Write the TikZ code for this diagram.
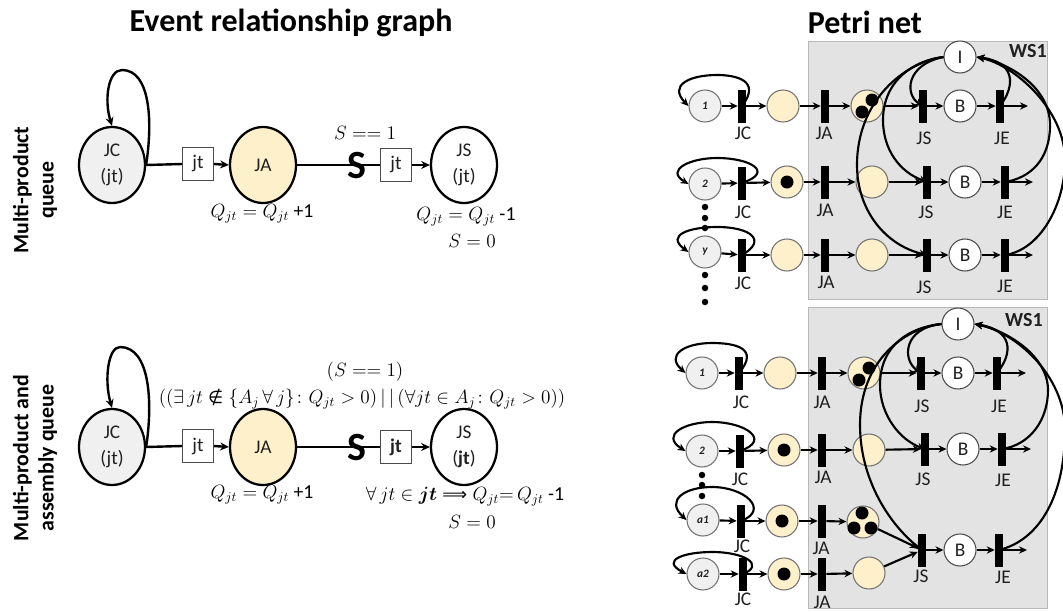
\documentclass[tikz,border=0pt]{standalone}
\usepackage{amsmath,amssymb}
\usepackage{fontspec}
\setmainfont{Carlito}
\newfontfamily\symfont{DejaVu Sans}
\usetikzlibrary{arrows.meta,shapes.geometric}
\definecolor{yel}{HTML}{FFF0CC}
\definecolor{gry}{HTML}{F0F0F0}
\definecolor{ws}{HTML}{E3E3E3}
\definecolor{edgeg}{HTML}{B8B8B8}
\definecolor{txt}{HTML}{202020}
\newcommand{\unitpx}{*0.75pt}
\newcommand{\symnotin}{\mathrel{\mbox{\symfont\fontsize{13}{15}\selectfont ∉}}}
\newcommand{\symimp}{\mathrel{\mbox{\symfont\fontsize{13}{15}\selectfont ⟹}}}
\tikzset{
 ev/.style={ellipse,draw=black,line width=1.7pt,minimum width=66\unitpx,minimum height=76\unitpx,inner sep=0pt,align=center,font=\fontsize{14.5}{19}\selectfont,text=txt},
 box/.style={draw=black!70,line width=.6pt,fill=white,minimum width=31\unitpx,minimum height=33\unitpx,inner sep=0pt,font=\fontsize{14.5}{16}\selectfont,text=txt},
 lab/.style={font=\fontsize{14.8}{18}\selectfont,text=black,inner sep=0pt,align=center},
 head/.style={font=\bfseries\fontsize{24}{28}\selectfont,text=black,inner sep=0pt},
 side/.style={font=\bfseries\fontsize{16.4}{19}\selectfont,rotate=90,inner sep=0pt,align=center,text=black},
 evline/.style={line width=1.8pt,-{Stealth[length=6.5pt,width=6pt]}},
 evplain/.style={line width=1.8pt},
 pl/.style={circle,draw=black!55,line width=.8pt,minimum size=32\unitpx,inner sep=0pt,font=\fontsize{14.5}{16}\selectfont,text=txt},
 plg/.style={pl,fill=gry,font=\bfseries\itshape\fontsize{8.5}{9}\selectfont},
 ply/.style={pl,fill=yel},
 plw/.style={pl,fill=white,draw=black!70},
 tr/.style={fill=black,minimum width=8\unitpx,minimum height=33\unitpx,inner sep=0pt},
 tok/.style={circle,fill=black,minimum size=13\unitpx,inner sep=0pt},
 dotp/.style={circle,fill=black,minimum size=6.5\unitpx,inner sep=0pt},
 pa/.style={line width=1.6pt,-{Stealth[length=6pt,width=5.5pt]}},
 wsbox/.style={fill=ws,draw=edgeg,line width=.7pt},
 tl/.style={font=\fontsize{14.5}{16}\selectfont,text=txt,inner sep=0pt},
 wsl/.style={font=\bfseries\fontsize{15}{16}\selectfont,inner sep=0pt,text=txt}
}
\begin{document}
\begin{tikzpicture}[x=0.75pt,y=-0.75pt]
\useasboundingbox (0,0) rectangle (1063,611);
% Titles
\node[head] (t1) at (291,23) {Event relationship graph};
\node[head] (t2) at (865,22) {Petri net};
\node[side] (s1) at (35,190) {Multi-product\\queue};
\node[side] (s2) at (35,458) {Multi-product and\\assembly queue};
% ERG upper
\node[ev,fill=gry] (JC1) at (112,165) {JC\\(jt)};
\node[box] (b1) at (198,164) {jt};
\node[ev,fill=yel] (JA1) at (263,165) {JA};
\node[box] (b2) at (396,165) {jt};
\node[ev,fill=white] (JS1) at (464,165) {JS\\(jt)};
\draw[evplain] (JC1.east) -- (b1.west);
\draw[evline] (b1.east) -- (JA1.west);
\draw[evplain] (JA1.east) -- (b2.west);
\draw[evline] (b2.east) -- (JS1.west);
\node[font=\bfseries\fontsize{30}{30}\selectfont,inner sep=0pt] (S1) at (357,166) {S};
\draw[evline] (JC1.east) .. controls (153,120) and (150,70) .. (122,70) .. controls (108,70) and (104,100) .. (JC1.north);
\node[lab] (a1) at (365,133) {$S==1$};
\node[lab] (a2) at (262,214) {$Q_{jt}=Q_{jt}$ +1};
\node[lab] (a3) at (466,217) {$Q_{jt}=Q_{jt}$ -1};
\node[lab] (a4) at (472,241) {$S=0$};
% ERG lower
\node[ev,fill=gry] (JC2) at (112,447) {JC\\(jt)};
\node[box] (b3) at (198,446) {jt};
\node[ev,fill=yel] (JA2) at (263,447) {JA};
\node[box] (b4) at (396,447) {\textbf{jt}};
\node[ev,fill=white] (JS2) at (464,447) {JS\\(\textbf{jt})};
\draw[evplain] (JC2.east) -- (b3.west);
\draw[evline] (b3.east) -- (JA2.west);
\draw[evplain] (JA2.east) -- (b4.west);
\draw[evline] (b4.east) -- (JS2.west);
\node[font=\bfseries\fontsize{30}{30}\selectfont,inner sep=0pt] (S2) at (357,448) {S};
\draw[evline] (JC2.east) .. controls (153,402) and (150,347) .. (120,347) .. controls (108,347) and (104,380) .. (JC2.north);
\node[lab] (c1) at (365,372) {$(S==1)$};
\node[lab] (c2) at (362,399) {$((\exists\,jt\symnotin\{A_j\,\forall\,j\}\colon Q_{jt}>0)\,|\,|\,(\forall jt\in A_j\colon Q_{jt}>0))$};
\node[lab] (c3) at (262,495) {$Q_{jt}=Q_{jt}$ +1};
\node[lab] (c4) at (465,497) {$\forall\,jt\in\boldsymbol{jt}\symimp Q_{jt}{=}\,Q_{jt}$ -1};
\node[lab] (c5) at (472,522) {$S=0$};
% Petri boxes
\draw[wsbox] (808,41) rectangle (1047,299);
\draw[wsbox] (808,307) rectangle (1047,608);
\node[wsl] (w1) at (1028,51) {WS1};
\node[wsl] (w2) at (1024,320) {WS1};
% Petri upper, row 1
\node[plw] (I) at (960,57) {I};
\node[plg] (p1) at (705,106) {1};
\node[tr] (tc1) at (742,106) {};
\node[ply] (y1) at (783,106) {};
\node[tr] (ta1) at (825,106) {};
\node[ply] (q1) at (867,106) {};
\node[tr] (ts1) at (923,106) {};
\node[plw] (B1) at (960,106) {B};
\node[tr] (te1) at (1000,106) {};
\coordinate (e1) at (1028,106);
% row 2
\node[plg] (p2) at (705,184) {2};
\node[tr] (tc2) at (742,183) {};
\node[ply] (y2) at (787,182) {};
\node[tok] (k3) at (787,182) {};
\node[tr] (ta2) at (825,182) {};
\node[ply] (q2) at (872,182) {};
\node[tr] (ts2) at (927,182) {};
\node[plw] (B2) at (965,182) {B};
\node[tr] (te2) at (1005,182) {};
\coordinate (e2) at (1033,182);
% row 3
\node[plg] (p3) at (705,252) {y};
\node[tr] (tc3) at (742,255) {};
\node[ply] (y3) at (787,255) {};
\node[tr] (ta3) at (825,255) {};
\node[ply] (q3) at (872,255) {};
\node[tr] (ts3) at (927,255) {};
\node[plw] (B3) at (965,255) {B};
\node[tr] (te3) at (1005,255) {};
\coordinate (e3) at (1033,255);
% arcs upper
\foreach \a/\b in {p1/tc1,tc1/y1,y1/ta1,ta1/q1,q1/ts1,ts1/B1,B1/te1,p2/tc2,tc2/y2,y2/ta2,ta2/q2,q2/ts2,ts2/B2,B2/te2,p3/tc3,tc3/y3,y3/ta3,ta3/q3,q3/ts3,ts3/B3,B3/te3}
  \draw[pa] (\a) -- (\b);
\foreach \a/\b in {te1/e1,te2/e2,te3/e3}
  \draw[pa] (\a.center) -- (\b);
\draw[pa] (tc1.center) .. controls (762,80) and (735,75) .. (717,75) .. controls (690,75) and (668,85) .. (p1.west);
\draw[pa] (tc2.center) .. controls (775,172) and (750,158) .. (717,158) .. controls (690,158) and (665,170) .. (p2.west);
\draw[pa] (tc3.center) .. controls (768,240) and (750,227) .. (717,227) .. controls (690,227) and (665,235) .. (p3.west);
\draw[pa] (I.west) .. controls (905,65) and (905,95) .. (ts1.center);
\draw[pa] (te1.center) .. controls (1016,85) and (1015,62) .. (I.east);
\draw[pa] (I.west) .. controls (915,60) and (883,80) .. (883,120) .. controls (883,150) and (900,172) .. (ts2.center);
\draw[pa] (I.west) .. controls (905,62) and (857,100) .. (857,165) .. controls (857,210) and (885,245) .. (ts3.center);
\draw[pa] (te2.center) .. controls (1030,178) and (1050,160) .. (1050,125) .. controls (1050,85) and (1005,62) .. (I.east);
\draw[pa] (te3.center) .. controls (1040,250) and (1065,205) .. (1065,160) .. controls (1065,110) and (1015,65) .. (I.east);
% tokens above the arcs
\node[tok] (k1) at (872,100) {};
\node[tok] (k2) at (862,112) {};
\foreach \n/\y in {d1/207,d2/218,d3/228,d4/275,d5/288,d6/302}
  \node[dotp] (\n) at (705,\y) {};
% labels upper
\node[tl] (l1) at (743,133) {JC}; \node[tl] (l2) at (824,133) {JA}; \node[tl] (l3) at (924,138) {JS}; \node[tl] (l4) at (1002,138) {JE};
\node[tl] (l5) at (743,212) {JC}; \node[tl] (l6) at (825,210) {JA}; \node[tl] (l7) at (926,212) {JS}; \node[tl] (l8) at (1005,212) {JE};
\node[tl] (l9) at (743,283) {JC}; \node[tl] (l10) at (826,282) {JA}; \node[tl] (l11) at (924,287) {JS}; \node[tl] (l12) at (1005,286) {JE};
% Petri lower
\node[plw] (Ib) at (958,324) {I};
\node[plg] (r1) at (702,373) {1};
\node[tr] (uc1) at (739,373) {};
\node[ply] (v1) at (780,373) {};
\node[tr] (ua1) at (822,373) {};
\node[ply] (w11) at (864,373) {};
\node[tr] (us1) at (921,373) {};
\node[plw] (C1) at (958,373) {B};
\node[tr] (ue1) at (997,373) {};
\coordinate (f1) at (1026,373);
\node[plg] (r2) at (702,451) {2};
\node[tr] (uc2) at (740,451) {};
\node[ply] (v2) at (784,450) {};
\node[tok] (m3) at (784,450) {};
\node[tr] (ua2) at (822,450) {};
\node[ply] (w12) at (869,450) {};
\node[tr] (us2) at (925,449) {};
\node[plw] (C2) at (963,449) {B};
\node[tr] (ue2) at (1002,449) {};
\coordinate (f2) at (1031,449);
\node[plg] (r3) at (703,520) {a1};
\node[tr] (uc3) at (741,521) {};
\node[ply] (v3) at (782,521) {};
\node[tok] (m4) at (782,521) {};
\node[tr] (ua3) at (822,521) {};
\node[ply] (w13) at (863,522) {};
\node[plg] (r4) at (703,574) {a2};
\node[tr] (uc4) at (743,574) {};
\node[ply] (v4) at (784,574) {};
\node[tok] (m8) at (784,574) {};
\node[tr] (ua4) at (822,574) {};
\node[ply] (w14) at (869,573) {};
\node[tr] (us3) at (922,550) {};
\node[plw] (C3) at (960,550) {B};
\node[tr] (ue3) at (999,550) {};
\coordinate (f3) at (1027,550);
\foreach \a/\b in {r1/uc1,uc1/v1,v1/ua1,ua1/w11,w11/us1,us1/C1,C1/ue1,r2/uc2,uc2/v2,v2/ua2,ua2/w12,w12/us2,us2/C2,C2/ue2,r3/uc3,uc3/v3,v3/ua3,ua3/w13,r4/uc4,uc4/v4,v4/ua4,ua4/w14,us3/C3,C3/ue3}
  \draw[pa] (\a) -- (\b);
\foreach \a/\b in {ue1/f1,ue2/f2,ue3/f3}
  \draw[pa] (\a.center) -- (\b);
\draw[pa] (w13) -- (us3);
\draw[pa] (w14) -- (us3);
\draw[pa] (uc1.center) .. controls (760,348) and (735,343) .. (712,343) .. controls (685,343) and (665,355) .. (r1.west);
\draw[pa] (uc2.center) .. controls (772,440) and (745,422) .. (712,422) .. controls (685,422) and (660,435) .. (r2.west);
\draw[pa] (uc3.center) .. controls (770,510) and (745,487) .. (712,487) .. controls (685,487) and (665,500) .. (r3.west);
\draw[pa] (uc4.center) .. controls (765,565) and (745,552) .. (712,552) .. controls (685,552) and (660,560) .. (r4.west);
\draw[pa] (Ib.west) .. controls (903,328) and (902,360) .. (us1.center);
\draw[pa] (ue1.center) .. controls (1014,352) and (1012,330) .. (Ib.east);
\draw[pa] (Ib.west) .. controls (910,327) and (880,345) .. (880,385) .. controls (880,415) and (900,440) .. (us2.center);
\draw[pa] (Ib.west) .. controls (905,328) and (860,360) .. (860,425) .. controls (860,480) and (890,525) .. (us3.center);
\draw[pa] (ue2.center) .. controls (1030,445) and (1048,420) .. (1048,390) .. controls (1048,355) and (1005,330) .. (Ib.east);
\draw[pa] (ue3.center) .. controls (1040,540) and (1065,495) .. (1065,430) .. controls (1065,375) and (1015,332) .. (Ib.east);
% tokens above the arcs
\node[tok] (m1) at (869,368) {};
\node[tok] (m2) at (859,380) {};
\node[tok] (m5) at (862,513) {};
\node[tok] (m6) at (854,528) {};
\node[tok] (m7) at (871,528) {};
\foreach \n/\y in {g1/475,g2/485,g3/496}
  \node[dotp] (\n) at (702,\y) {};
\node[tl] (n1) at (741,402) {JC}; \node[tl] (n2) at (822,402) {JA}; \node[tl] (n3) at (922,406) {JS}; \node[tl] (n4) at (999,406) {JE};
\node[tl] (n5) at (740,479) {JC}; \node[tl] (n6) at (823,477) {JA}; \node[tl] (n7) at (923,479) {JS}; \node[tl] (n8) at (1003,480) {JE};
\node[tl] (n9) at (742,546) {JC}; \node[tl] (n10) at (821,548) {JA};
\node[tl] (n11) at (743,599) {JC}; \node[tl] (n12) at (822,602) {JA}; \node[tl] (n13) at (921,576) {JS}; \node[tl] (n14) at (1003,577) {JE};
\end{tikzpicture}
\end{document}
